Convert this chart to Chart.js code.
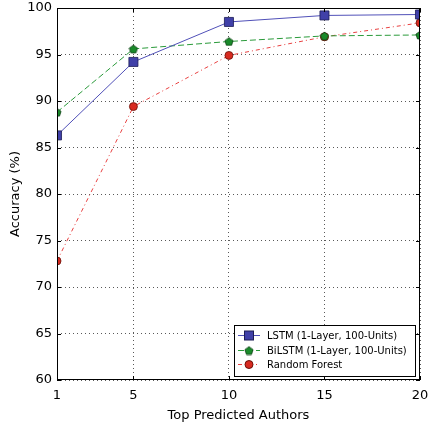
<!DOCTYPE html>
<html>
<head>
<meta charset="utf-8">
<script src="https://cdn.jsdelivr.net/npm/chart.js@4/dist/chart.umd.min.js"></script>
<style>
html, body { margin: 0; padding: 0; background: #fff; }
#wrap { width: 431px; height: 422px; }
</style>
</head>
<body>
<div id="wrap"><canvas id="chart" width="431" height="422"></canvas></div>
<script>
// values
var topN = [1, 5, 10, 15, 20];
var lstm = [86.3, 94.2, 98.5, 99.2, 99.3];
var bilstm = [88.8, 95.6, 96.4, 97.0, 97.1];
var forest = [72.8, 89.4, 94.9, 96.9, 98.4];
var yTicks = [60, 65, 70, 75, 80, 85, 90, 95, 100];
var names = ["LSTM (1-Layer, 100-Units)", "BiLSTM (1-Layer, 100-Units)", "Random Forest"];

var FONT = "'DejaVu Sans', sans-serif";

function pentagon(size, fill, edge) {
	var c = document.createElement("canvas");
	c.width = size; c.height = size;
	var g = c.getContext("2d");
	var r = size / 2 - 0.7;
	g.beginPath();
	for (var i = 0; i < 5; i++) {
		var a = -Math.PI / 2 + i * 2 * Math.PI / 5;
		var px = size / 2 + r * Math.cos(a), py = size / 2 + r * Math.sin(a) + 0.5;
		if (i === 0) g.moveTo(px, py); else g.lineTo(px, py);
	}
	g.closePath();
	g.fillStyle = fill; g.fill();
	g.lineWidth = 0.8; g.strokeStyle = edge; g.stroke();
	return c;
}

function pts(vals) {
	return vals.map(function(v, i){ return {x: topN[i], y: v}; });
}

function noPad(s) {
	s.paddingTop = 0; s.paddingBottom = 0; s.paddingLeft = 0; s.paddingRight = 0;
}

var penta = pentagon(10, "#1a8a2a", "#0b3d12");

var legendBox = {
	id: "legendBox",
	afterDraw: function(chart) {
		var ctx = chart.ctx;
		var a = chart.chartArea;
		ctx.save();
		// frame and inward ticks
		ctx.strokeStyle = "#000"; ctx.lineWidth = 1;
		ctx.strokeRect(a.left + 0.5, a.top + 0.5, a.right - a.left - 1, a.bottom - a.top - 1);
		var xs = chart.scales.x, ys = chart.scales.y;
		ctx.beginPath();
		topN.forEach(function(v){
			var px = Math.round(xs.getPixelForValue(v)) + 0.5;
			ctx.moveTo(px, a.bottom); ctx.lineTo(px, a.bottom - 4);
			ctx.moveTo(px, a.top); ctx.lineTo(px, a.top + 4);
		});
		yTicks.forEach(function(v){
			var py = Math.round(ys.getPixelForValue(v)) + 0.5;
			ctx.moveTo(a.left, py); ctx.lineTo(a.left + 4, py);
			ctx.moveTo(a.right, py); ctx.lineTo(a.right - 4, py);
		});
		ctx.stroke();

		// legend
		var bx = 234.5, by = 325.5, bw = 181, bh = 51;
		ctx.fillStyle = "#fff";
		ctx.fillRect(bx, by, bw, bh);
		ctx.strokeRect(bx, by, bw, bh);
		ctx.font = "10px " + FONT;
		ctx.textBaseline = "middle";
		var rows = [335, 350, 364];
		chart.data.datasets.forEach(function(ds, i){
			var y = rows[i];
			ctx.strokeStyle = ds.borderColor;
			ctx.lineWidth = 1;
			ctx.setLineDash(ds.borderDash || []);
			ctx.beginPath(); ctx.moveTo(238, y + 0.5); ctx.lineTo(260, y + 0.5); ctx.stroke();
			ctx.setLineDash([]);
			if (ds.pointStyle === "rect") {
				ctx.fillStyle = ds.pointBackgroundColor;
				ctx.fillRect(244.5, y - 4, 9, 9);
				ctx.strokeStyle = ds.pointBorderColor;
				ctx.strokeRect(244.5, y - 4, 9, 9);
			} else if (ds.pointStyle === "circle") {
				ctx.beginPath(); ctx.arc(249, y + 0.5, 4, 0, Math.PI * 2);
				ctx.fillStyle = ds.pointBackgroundColor; ctx.fill();
				ctx.strokeStyle = ds.pointBorderColor; ctx.stroke();
			} else {
				ctx.drawImage(ds.pointStyle, 244, y - 4.5);
			}
			ctx.fillStyle = "#000";
			ctx.fillText(ds.label, 267, y + 1);
		});
		ctx.restore();
	}
};

new Chart(document.getElementById("chart").getContext("2d"), {
	type: "line",
	data: {
		datasets: [{
			label: names[0],
			data: pts(lstm),
			clip: 0,
			borderColor: "#5050b8",
			borderWidth: 1,
			pointStyle: "rect",
			pointRadius: 6.4,
			pointBackgroundColor: "#4040a8",
			pointBorderColor: "#1c1c55",
			pointBorderWidth: 0.8
		}, {
			label: names[1],
			data: pts(bilstm),
			clip: 0,
			borderColor: "#2a9a3a",
			borderWidth: 1,
			borderDash: [6, 3],
			pointStyle: penta,
			pointRadius: 5,
			pointBackgroundColor: "#1a8a2a",
			pointBorderColor: "#0b3d12"
		}, {
			label: names[2],
			data: pts(forest),
			clip: 0,
			borderColor: "#e84040",
			borderWidth: 1,
			borderDash: [4, 3, 1, 3],
			pointStyle: "circle",
			pointRadius: 4,
			pointBackgroundColor: "#d82a20",
			pointBorderColor: "#6a1008",
			pointBorderWidth: 0.8
		}]
	},
	options: {
		responsive: false,
		animation: false,
		layout: { padding: { top: 8, right: 11, left: 0, bottom: 0 } },
		plugins: { legend: { display: false }, tooltip: { enabled: false } },
		scales: {
			x: {
				type: "linear",
				min: 1, max: 20,
				afterBuildTicks: function(s){ s.ticks = topN.map(function(v){ return {value: v}; }); },
				afterFit: function(s){ s.height = 42; noPad(s); },
				grid: { color: "rgba(0,0,0,0.65)", drawTicks: false },
				border: { display: false, dash: [1, 3] },
				ticks: { color: "#000", padding: 8, font: { family: FONT, size: 13 }, maxRotation: 0 },
				title: { display: true, text: "Top Predicted Authors", color: "#000", font: { family: FONT, size: 13 }, padding: { top: 0, bottom: -1 } }
			},
			y: {
				min: 60, max: 100,
				afterBuildTicks: function(s){ s.ticks = yTicks.map(function(v){ return {value: v}; }); },
				afterFit: function(s){ s.width = 57; noPad(s); },
				grid: { color: "rgba(0,0,0,0.65)", drawTicks: false },
				border: { display: false, dash: [1, 3] },
				ticks: { color: "#000", padding: 5, font: { family: FONT, size: 13 } },
				title: { display: true, text: "Accuracy (%)", color: "#000", font: { family: FONT, size: 13 }, padding: { top: 8, bottom: 0 } }
			}
		}
	},
	plugins: [legendBox]
});
</script>
</body>
</html>
